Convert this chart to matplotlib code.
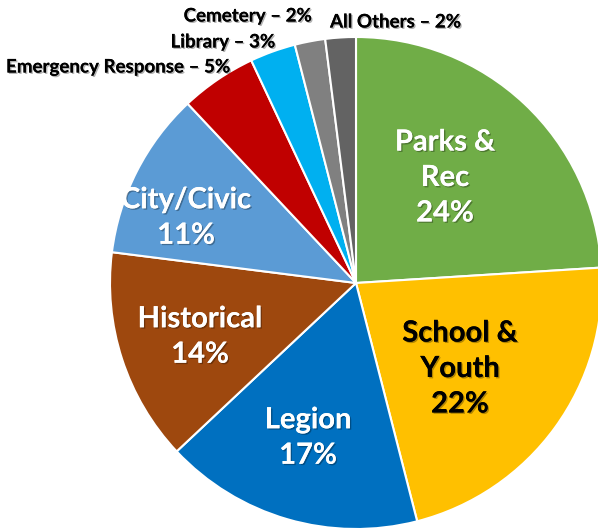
import matplotlib
matplotlib.use('Agg')
import matplotlib.pyplot as plt
import matplotlib.patheffects as pe

# Data (clockwise from 12 o'clock)
categories = ['Parks &\nRec', 'School &\nYouth', 'Legion', 'Historical', 'City/Civic',
              'Emergency Response', 'Library', 'Cemetery', 'All Others']
shares = [24, 22, 17, 14, 11, 5, 3, 2, 2]
colors = ['#70AD47', '#FFC000', '#0070C0', '#9E480E', '#5B9BD5',
          '#C00000', '#00B0F0', '#808080', '#636363']
text_colors = ['white', 'black', 'white', 'white', 'white']

plt.rcParams['font.family'] = ['Lato', 'DejaVu Sans']

fig = plt.figure(figsize=(5.98, 5.31), dpi=100)
ax = fig.add_axes([0, 0, 1, 1])

cx, cy, r = 356, 248, 246
wedges, _ = ax.pie(shares, colors=colors, startangle=90, counterclock=False,
                   center=(cx, cy), radius=r, frame=True,
                   wedgeprops=dict(edgecolor='white', linewidth=1.5))
ax.set_xlim(0, 598)
ax.set_ylim(0, 531)
ax.set_aspect('equal')
ax.axis('off')

shadow = [pe.withSimplePatchShadow(offset=(1, -1), shadow_rgbFace='black', alpha=0.3), pe.Normal()]

# inner labels (pixel positions from top-left)
inner_pos = [(445, 178), (460, 369), (308, 438), (200, 337), (186, 218)]
for i, (x, y) in enumerate(inner_pos):
    ax.text(x, 531 - y, f'{categories[i]}\n{shares[i]}%', ha='center', va='center',
            fontsize=21, fontweight='bold', color=text_colors[i],
            linespacing=1.45, path_effects=shadow)

# outer labels
outer = [(5, 'right', 230, 67), (6, 'right', 275, 42), (7, 'right', 312, 16), (8, 'left', 330, 22)]
for i, ha, x, y in outer:
    ax.text(x, 531 - y, f'{categories[i]} \u2013 {shares[i]}%', ha=ha, va='center',
            fontsize=13.5, fontweight='bold', color='black', path_effects=shadow)

fig.savefig('out.png', dpi=100)
